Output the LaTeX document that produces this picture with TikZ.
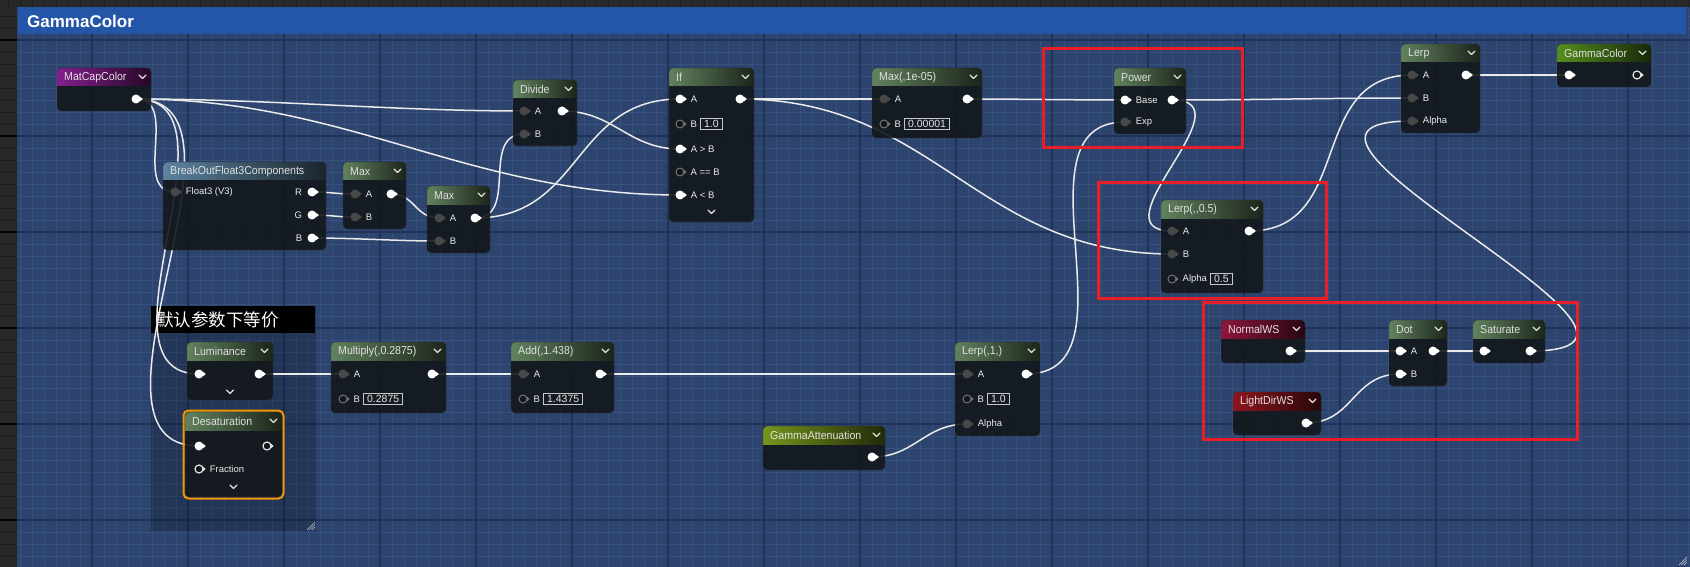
\documentclass[tikz,border=0pt]{standalone}
\usepackage{fontspec}
\setmainfont{Liberation Sans}
\newfontfamily\uefont{Liberation Sans}[FakeStretch=0.92]
\newfontfamily\cjk{Noto Sans CJK SC}
\usetikzlibrary{positioning,calc,backgrounds}
\pgfdeclarelayer{wires}
\pgfsetlayers{background,wires,main}

\definecolor{canvas}{RGB}{45,68,110}
\definecolor{gridmin}{RGB}{55,81,126}
\definecolor{gridmaj}{RGB}{32,50,88}
\definecolor{outer}{RGB}{40,40,40}
\definecolor{outergrid}{RGB}{30,30,30}
\definecolor{bar}{RGB}{36,86,168}
\definecolor{body}{RGB}{19,23,27}
\definecolor{exprgreen}{RGB}{98,130,94}
\definecolor{parampurple}{RGB}{132,30,142}
\definecolor{breakblue}{RGB}{92,132,160}
\definecolor{scalarolive}{RGB}{118,150,28}
\definecolor{outgreen}{RGB}{84,142,30}
\definecolor{normalred}{RGB}{142,22,62}
\definecolor{lightred}{RGB}{142,22,30}
\definecolor{markred}{RGB}{232,30,40}
\definecolor{selorange}{RGB}{240,150,0}
\definecolor{pingrey}{RGB}{72,72,72}

% one material expression: name, top left, width, height, colour, title
\newcommand\uenode[6]{%
  \node[uebody,minimum width=#3,minimum height=#4] (#1) at (#2) {};
  \begin{scope}
    \clip[rounded corners=4] (#1.north west) rectangle (#1.south east);
    \shade[left color=#5,right color=#5!28!black] (#1.north west) rectangle ($(#1.north east)+(0,18)$);
  \end{scope}
  \draw[rounded corners=4,draw=black!80] (#1.north west) rectangle (#1.south east);
  \node[uetitle] (#1-t) at ($(#1.north west)+(7,9.5)$) {#6};
}
% spline from an output pin to an input pin
\newcommand\wire[2]{%
  \draw[wire] let \p1=(#1), \p2=(#2), \n1={max(20,(abs(\x2-\x1)+abs(\y2-\y1))/3)} in
    (\p1) .. controls +(\n1,0) and +(-\n1,0) .. (\p2);}
% small arrow nub on the right of a pin
\newcommand\nub[2]{\fill[#2] ($(#1.east)+(-0.6,-2.3)$) -- ++(2.7,2.3) -- ++(-2.7,2.3) -- cycle;}

\begin{document}
\begin{tikzpicture}[x=1pt,y=-1pt,
  uebody/.style={fill=body,fill opacity=0.9,rounded corners=4,anchor=north west,inner sep=0,outer sep=0},
  uetitle/.style={anchor=west,font=\uefont\fontsize{11.5}{12}\selectfont,text=white!88!black,inner sep=0},
  pinlabel/.style={font=\fontsize{9.5}{10}\selectfont,text=white!92!black,inner sep=1pt},
  valbox/.style={draw=white!78!black,line width=0.7,font=\fontsize{10.5}{11}\selectfont,text=white!90!black,inner xsep=3.5pt,inner ysep=1.5pt},
  chev/.style={draw=white!88!black,line width=1.1,line cap=round,line join=round},
  wire/.style={draw=white!92!black,line width=1.5},
  pinw/.style={circle,fill=white,inner sep=0,minimum size=9},
  ping/.style={circle,fill=pingrey,inner sep=0,minimum size=9},
  pinh/.style={circle,draw=black!55,fill=body,line width=1,inner sep=0,minimum size=8},
  pino/.style={circle,draw=white!90!black,fill=body,line width=1.2,inner sep=0,minimum size=8},
  markbox/.style={draw=markred,line width=3},
  gridminor/.style={draw=gridmin,line width=0.8},
  gridmajor/.style={draw=gridmaj,line width=1.2}]
\useasboundingbox (0,0) rectangle (1690,567);

\begin{pgfonlayer}{background}
\fill[outer] (0,0) rectangle (1690,567);
\foreach \y in {16,28,...,560} \draw[outergrid] (0,\y) -- (17,\y);
\foreach \x in {8,20,...,1688} \draw[outergrid] (\x,0) -- (\x,7);
\foreach \y in {40,136,...,520} \draw[black,line width=1.3] (0,\y) -- (17,\y);
\begin{scope}
  \clip (17,7) rectangle (1690,567);
  \fill[canvas] (17,7) rectangle (1690,567);
  \foreach \x in {20,32,...,1688} \draw[gridminor] (\x,7) -- (\x,567);
  \foreach \y in {16,28,...,560} \draw[gridminor] (17,\y) -- (1690,\y);
  \foreach \x in {92,188,...,1628} \draw[gridmajor] (\x,7) -- (\x,567);
  \foreach \y in {40,136,...,520} \draw[gridmajor] (17,\y) -- (1690,\y);
\end{scope}
% comment box
\fill[black,opacity=0.2] (151,306) rectangle (316,531);
\fill[black] (151,306) rectangle (315,333);
\foreach \s in {3,5.5,8} \draw[white!80!black,line width=0.6] (315-\s,530) -- (315,530-\s);
\foreach \s in {3,5.5,8} \draw[white!80!black,line width=0.6] (1687-\s,565) -- (1687,565-\s);
\end{pgfonlayer}
\node[anchor=west,font=\cjk\fontsize{17.5}{20}\selectfont,text=white,inner sep=0] (note) at (156,320) {默认参数下等价};

% graph title
\fill[bar] (18,7) rectangle (1686,34);
\node[anchor=west,font=\bfseries\fontsize{17}{20}\selectfont,text=white,inner sep=0] (graph-title) at (27,21) {GammaColor};

% expressions
\uenode{matcap}{57,68}{94}{43}{parampurple}{MatCapColor}
\uenode{breakout}{163,162}{163}{88}{breakblue}{BreakOutFloat3Components}
\uenode{maxa}{343,162}{63}{67}{exprgreen}{Max}
\uenode{maxb}{427,186}{63}{67}{exprgreen}{Max}
\uenode{divide}{513,80}{64}{66}{exprgreen}{Divide}
\uenode{ifab}{669,68}{85}{154}{exprgreen}{If}
\uenode{maxe}{872,68}{110}{70}{exprgreen}{Max(,1e-05)}
\uenode{power}{1114,68}{72}{66}{exprgreen}{Power}
\uenode{lerp}{1401,44}{79}{89}{exprgreen}{Lerp}
\uenode{gcolor}{1557,44}{94}{43}{outgreen}{GammaColor}
\uenode{lerph}{1161,200}{102}{93}{exprgreen}{Lerp(,,0.5)}
\uenode{lum}{187,342}{86}{58}{exprgreen}{Luminance}
\uenode{desat}{185,412}{97}{85}{exprgreen}{Desaturation}
\uenode{mult}{331,342}{115}{71}{exprgreen}{Multiply(,0.2875)}
\uenode{add}{511,342}{103}{71}{exprgreen}{Add(,1.438)}
\uenode{lerpo}{955,342}{85}{94}{exprgreen}{Lerp(,1,)}
\uenode{gatt}{763,426}{122}{44}{scalarolive}{GammaAttenuation}
\uenode{normal}{1221,320}{84}{43}{normalred}{NormalWS}
\uenode{light}{1233,392}{88}{43}{lightred}{LightDirWS}
\uenode{dot}{1389,320}{58}{66}{exprgreen}{Dot}
\uenode{sat}{1473,320}{72}{43}{exprgreen}{Saturate}
\draw[selorange,line width=2,rounded corners=5] ($(desat.north west)+(-1.5,-1.5)$) rectangle ($(desat.south east)+(1.5,1.5)$);

\foreach \n in {matcap,maxa,maxb,divide,ifab,maxe,power,lerp,gcolor,lerph,lum,desat,mult,add,lerpo,gatt,normal,light,dot,sat}
  \draw[chev] ($(\n.north east)+(-12,7)$) -- ++(3.5,3.5) -- ++(3.5,-3.5);
\foreach \n/\d in {ifab/12,lum/10,desat/12}
  \draw[chev] ($(\n.south)+(-3.5,-\d)$) -- ++(3.5,3.5) -- ++(3.5,-3.5);

% pins
\foreach \n/\x/\y in {matcap-o/136/99,bo-r/312/192,bo-g/312/215,bo-b/312/238,maxa-o/391/194,maxb-o/475/218,
    div-o/562/111,if-o/740/99,maxe-o/967/99,pow-o/1172/100,lerp-o/1466/75,lerph-o/1249/231,lum-o/259/374,
    mult-o/432/374,add-o/600/374,lerpo-o/1026/374,gatt-o/872/457,normal-o/1290/351,light-o/1306/423,
    dot-o/1433/351,sat-o/1530/351,if-a/680/99,if-gt/680/149,if-lt/680/195,pow-b/1125/100,lum-i/199/374,
    desat-i/199/446,dot-a/1400/351,dot-b/1400/374,sat-i/1484/351,gcolor-i/1569/75}
  {\node[pinw] (\n) at (\x,\y) {}; \nub{\n}{white}}
\foreach \n/\x/\y in {bo-in/175/192,maxa-a/355/194,maxa-b/355/217,maxb-a/439/218,maxb-b/439/241,div-a/524/111,
    div-b/524/134,maxe-a/884/99,pow-e/1125/122,lerp-a/1412/75,lerp-b/1412/98,lerp-al/1412/121,lerph-a/1172/231,
    lerph-b/1172/254,mult-a/343/374,add-a/523/374,lerpo-a/967/374,lerpo-al/967/424}
  {\node[ping] (\n) at (\x,\y) {}; \nub{\n}{pingrey}}
\foreach \n/\x/\y in {if-b/680/124,if-eq/680/172,maxe-b/884/124,lerph-al/1172/279,mult-b/343/399,add-b/523/399,lerpo-b/967/399}
  {\node[pinh] (\n) at (\x,\y) {}; \nub{\n}{black!55}}
\foreach \n/\x/\y in {desat-o/267/446,desat-f/199/469,gcolor-o/1637/75}
  {\node[pino] (\n) at (\x,\y) {}; \nub{\n}{white!90!black}}

% pin labels
\foreach \n/\t in {bo-in/Float3 (V3),maxa-a/A,maxa-b/B,maxb-a/A,maxb-b/B,div-a/A,div-b/B,if-a/A,if-b/B,
    if-gt/A > B,if-eq/A == B,if-lt/A < B,maxe-a/A,maxe-b/B,pow-b/Base,pow-e/Exp,lerp-a/A,lerp-b/B,lerp-al/Alpha,
    lerph-a/A,lerph-b/B,lerph-al/Alpha,mult-a/A,mult-b/B,add-a/A,add-b/B,lerpo-a/A,lerpo-b/B,lerpo-al/Alpha,
    desat-f/Fraction,dot-a/A,dot-b/B}
  \node[pinlabel,right=5pt of \n] (\n-l) {\t};
\foreach \n/\t in {bo-r/R,bo-g/G,bo-b/B}
  \node[pinlabel,left=4pt of \n] (\n-l) {\t};
\foreach \n/\v in {if-b/1.0,maxe-b/0.00001,lerph-al/0.5,mult-b/0.2875,add-b/1.4375,lerpo-b/1.0}
  \node[valbox,right=2pt of \n-l] (\n-v) {\v};

% connections
\begin{pgfonlayer}{wires}
\foreach \a/\b in {matcap-o/div-a,matcap-o/if-lt,matcap-o/bo-in,matcap-o/lum-i,matcap-o/desat-i,
    bo-r/maxa-a,bo-g/maxa-b,bo-b/maxb-b,maxa-o/maxb-a,maxb-o/div-b,maxb-o/if-a,div-o/if-gt,
    if-o/maxe-a,if-o/lerph-b,maxe-o/pow-b,pow-o/lerp-b,lerph-o/lerp-a,lerp-o/gcolor-i,
    lum-o/mult-a,mult-o/add-a,add-o/lerpo-a,lerpo-o/pow-e,gatt-o/lerpo-al,
    normal-o/dot-a,light-o/dot-b,dot-o/sat-i}
  \wire{\a}{\b};
\draw[wire] (pow-o.center) .. controls +(80,0) and +(-80,0) .. (lerph-a.center);
\draw[wire] (sat-o.center) .. controls +(200,0) and +(-200,0) .. (lerp-al.center);
\end{pgfonlayer}

% highlight frames
\draw[markbox] (1043,49) rectangle (1242,148);
\draw[markbox] (1098,183) rectangle (1326,298);
\draw[markbox] (1203,302) rectangle (1577,439);
\end{tikzpicture}
\end{document}
